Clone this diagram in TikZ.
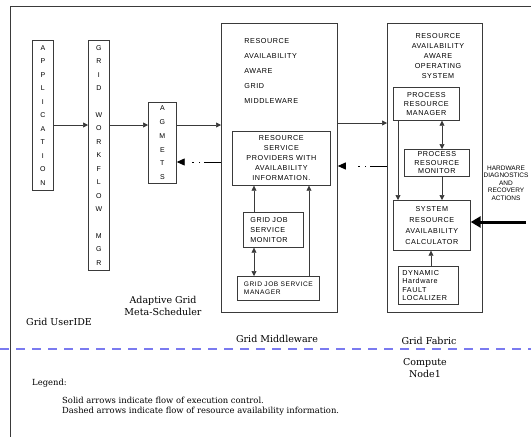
\documentclass[tikz,border=0pt]{standalone}
\usepackage{fontspec}
\setmainfont{DejaVu Serif}
\newfontfamily\boxfont{Liberation Sans}[LetterSpace=8]
\newfontfamily\tagfont{Liberation Sans}
\usetikzlibrary{arrows.meta,positioning,calc}
\definecolor{cLine}{HTML}{3A3A3A}
\definecolor{cSep} {HTML}{7A7AF0}
\tikzset{
  blk/.style   ={draw=cLine,fill=white,align=center,inner sep=0pt,line width=0.7pt,
                 anchor=north west,font=\boxfont\fontsize{7.2}{10}\selectfont},
  vblk/.style  ={blk,font=\boxfont\fontsize{7}{13.45}\selectfont},
  layer/.style ={blk,line width=0.8pt},
  lbl/.style   ={font=\fontsize{9.5}{12}\selectfont,align=center,inner sep=0pt},
  note/.style  ={font=\fontsize{8.4}{10}\selectfont,anchor=west,inner sep=0pt},
  sig/.style   ={-{Triangle[length=5pt,width=5pt]},draw=cLine,line width=0.7pt},
  both/.style  ={sig,{Triangle[length=5pt,width=5pt]}-{Triangle[length=5pt,width=5pt]}},
  info/.style  ={-{Triangle[length=8pt,width=7pt]},draw=black,line width=0.9pt,
                 dash pattern=on 17pt off 4pt on 1.5pt off 5pt on 1.5pt off 40pt},
  heavy/.style ={-{Triangle[length=10pt,width=11pt]},draw=black,line width=3pt},
}

\begin{document}
\begin{tikzpicture}[x=1pt,y=1pt]
\useasboundingbox (0,0) rectangle (531,-437);

% ===== frame and separator ================================================
\draw[cLine,line width=0.8pt] (531,-6) -- (10,-6) -- (10,-437);
\draw[cSep,line width=1.4pt,dash pattern=on 9pt off 7pt] (0,-349) -- (531,-349);

% ===== user side ==========================================================
\node[vblk,minimum width=21,minimum height=150] (app) at (32,-40)
  {A\\P\\P\\L\\I\\C\\A\\T\\I\\O\\N};
\node[vblk,minimum width=21,minimum height=230] (gwm) at (88,-40)
  {G\\R\\I\\D\\[13.45pt]W\\O\\R\\K\\F\\L\\O\\W\\[13.45pt]M\\G\\R};
\node[vblk,minimum width=28,minimum height=81,font=\boxfont\fontsize{7}{13.8}\selectfont]
  (agm) at (148,-102) {A\\G\\M\\E\\T\\S};

% ===== grid middleware ====================================================
\node[layer,minimum width=116,minimum height=289] (mw) at (221,-23) {};
\node[blk,draw=none,fill=none,align=left,font=\boxfont\fontsize{7.2}{14.8}\selectfont]
  (mwt) at (244,-38.5)
  {RESOURCE\\AVAILABILITY\\AWARE\\GRID\\MIDDLEWARE};
\node[blk,minimum width=98,minimum height=54] (rsp) at (232,-131)
  {RESOURCE\\SERVICE\\PROVIDERS WITH\\AVAILABILITY\\INFORMATION.};
\node[blk,minimum width=60,minimum height=35,align=left,text width=46] (gjsm) at (243,-212)
  {GRID JOB\\SERVICE\\MONITOR};
\node[blk,minimum width=82,minimum height=24,align=left,
  font=\boxfont\fontsize{6.6}{8.5}\selectfont] (gjsman) at (237,-276)
  {GRID JOB SERVICE\\MANAGER};

% ===== grid fabric ========================================================
\node[layer,minimum width=95,minimum height=289] (os) at (387,-23) {};
\node[blk,draw=none,fill=none,anchor=north] (ost) at (438,-33)
  {RESOURCE\\AVAILABILITY\\AWARE\\OPERATING\\SYSTEM};
\node[blk,minimum width=66,minimum height=33,font=\boxfont\fontsize{7.2}{9}\selectfont]
  (prm) at (393,-87) {PROCESS\\RESOURCE\\MANAGER};
\node[blk,minimum width=65,minimum height=27,font=\boxfont\fontsize{7.2}{8.5}\selectfont]
  (prmon) at (404,-149) {PROCESS\\RESOURCE\\MONITOR};
\node[blk,minimum width=77,minimum height=50,font=\boxfont\fontsize{7.2}{11}\selectfont]
  (srac) at (393,-200) {SYSTEM\\RESOURCE\\AVAILABILITY\\CALCULATOR};
\node[blk,minimum width=60,minimum height=38,align=left,text width=52,
  font=\boxfont\fontsize{7.2}{8.5}\selectfont] (dhfl) at (398,-266)
  {DYNAMIC\\Hardware\\FAULT\\LOCALIZER};
\node[blk,draw=none,fill=none,anchor=center,font=\tagfont\fontsize{6.5}{7.5}\selectfont]
  (hw) at (506,-183) {HARDWARE\\DIAGNOSTICS\\AND\\RECOVERY\\ACTIONS};

% ===== connectors =========================================================
\coordinate (yA) at (0,-125);
\coordinate (yB) at (0,-162);
\coordinate (yC) at (0,-123);
\coordinate (yD) at (0,-166);
\draw[sig] (app.east|-yA) -- (gwm.west|-yA);
\draw[sig] (gwm.east|-yA) -- (agm.west|-yA);
\draw[sig] (agm.east|-yA) -- (mw.west|-yA);
\draw[info] (mw.west|-yB) -- (agm.east|-yB);
\draw[sig] (mw.east|-yC) -- (os.west|-yC);
\draw[info] (os.west|-yD) -- (mw.east|-yD);

\coordinate (xM) at (254,0);
\coordinate (xR) at (309,0);
\draw[sig]  (gjsm.north-|xM) -- (rsp.south-|xM);
\draw[both] (gjsman.north-|xM) -- (gjsm.south-|xM);
\draw[sig]  (gjsman.north-|xR) -- (rsp.south-|xR);

\coordinate (xP) at (442,0);
\coordinate (xL) at (398,0);
\coordinate (xD) at (431,0);
\draw[both] (prm.south-|xP) -- (prmon.north-|xP);
\draw[sig]  (prmon.south-|xP) -- (srac.north-|xP);
\draw[sig]  (prm.south-|xL) -- (srac.north-|xL);
\draw[sig]  (dhfl.north-|xD) -- (srac.south-|xD);
\coordinate (hwin) at (526,-222);
\draw[heavy] (hwin) -- (srac.east|-hwin);

% ===== region labels and legend ===========================================
\node[lbl] (lUser)  at (59,-322)  {Grid UserIDE};
\node[lbl] (lMeta)  at (163,-306) {Adaptive Grid\\Meta-Scheduler};
\node[lbl] (lMid)   at (277,-339) {Grid Middleware};
\node[lbl] (lFab)   at (429,-341) {Grid Fabric};
\node[lbl] (lNode)  at (425,-368) {Compute\\Node1};
\node[note] (leg)   at (32,-383)  {Legend:};
\node[note] (legS)  at (62,-400)  {Solid arrows indicate flow of execution control.};
\node[note] (legD)  at (62,-411)  {Dashed arrows indicate flow of resource availability information.};
\end{tikzpicture}
\end{document}
